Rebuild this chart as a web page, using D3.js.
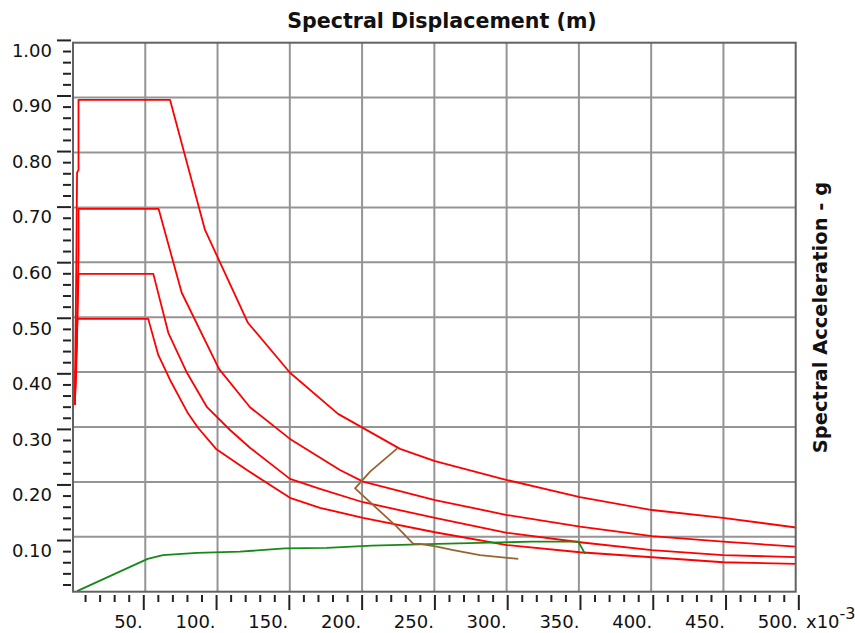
<!DOCTYPE html>
<html lang="en">
<head>
<meta charset="utf-8">
<script src="https://d3js.org/d3.v7.min.js"></script>
<style>
  body { margin: 0; background: #fff; }
  svg { display: block; }
  .tick text { font-family: "DejaVu Sans", sans-serif; font-size: 18px; fill: #111; }
  .tick line { stroke: #222; stroke-width: 2px; }
  .grid line { stroke: #959595; stroke-width: 2px; }
  .curve { fill: none; stroke-width: 1.8px; stroke-linejoin: round; }
</style>
</head>
<body>
<svg id="chart" width="855" height="633"></svg>
<script>
// demand spectra, [Sd (x10^-3 m), Sa (g)]
let spectrum1 = [[2.9, 0.343], [4.1, 0.622], [4.5, 0.761], [5.5, 0.766], [5.5, 0.892], [68.4, 0.892], [92.4, 0.658], [121.9, 0.491], [150.8, 0.401], [183.8, 0.327], [226.4, 0.264], [250.4, 0.242], [299.9, 0.208], [350.0, 0.177], [399.5, 0.154], [448.3, 0.140], [500, 0.122]]
let spectrum2 = [[2.9, 0.343], [4.5, 0.478], [5.5, 0.617], [5.5, 0.696], [60.5, 0.696], [76.4, 0.545], [102.0, 0.408], [123.3, 0.339], [150.8, 0.282], [185.1, 0.226], [201.0, 0.205], [250.4, 0.172], [299.9, 0.145], [350.0, 0.124], [399.5, 0.107], [448.3, 0.097], [500, 0.088]]
let spectrum3 = [[2.9, 0.343], [4.8, 0.507], [5.5, 0.579], [56.9, 0.579], [67.2, 0.473], [80.0, 0.401], [93.8, 0.339], [109.6, 0.298], [123.3, 0.266], [150.8, 0.210], [171.4, 0.192], [201.0, 0.168], [250.4, 0.140], [299.9, 0.113], [350.0, 0.096], [399.5, 0.082], [448.3, 0.073], [500, 0.069]]
let spectrum4 = [[2.9, 0.343], [3.8, 0.393], [4.8, 0.498], [53.4, 0.498], [60.3, 0.433], [68.4, 0.388], [80.7, 0.328], [87.6, 0.302], [100.0, 0.264], [121.2, 0.226], [150.8, 0.176], [171.4, 0.158], [201.0, 0.140], [250.4, 0.114], [299.9, 0.091], [350.0, 0.078], [399.5, 0.069], [448.3, 0.060], [500, 0.057]]
// capacity curve
let capacity = [[4.5, 0.008], [53.0, 0.066], [63.5, 0.073], [86.9, 0.077], [116.4, 0.079], [147.3, 0.085], [176.0, 0.086], [206.9, 0.090], [252.5, 0.093], [316.8, 0.097], [348.9, 0.097], [353.5, 0.075]]
// single demand spectrum (variable damping)
let demand = [[224.5, 0.265], [205.8, 0.223], [195.5, 0.193], [224.1, 0.124], [235.5, 0.093], [240.1, 0.093], [251.6, 0.088], [263.0, 0.082], [281.3, 0.073], [307.6, 0.066]]

let xTicks = [50, 100, 150, 200, 250, 300, 350, 400, 450, 500]
let yTicks = [0.1, 0.2, 0.3, 0.4, 0.5, 0.6, 0.7, 0.8, 0.9, 1.0]
let xMinor = d3.range(10, 500, 10).filter(v => v % 50 != 0)
let yMinor = d3.range(2, 100, 2).filter(v => v % 10 != 0).map(v => v / 100)

let boxL = 73, boxR = 795.7, boxT = 42.7, boxB = 591.7
let x = d3.scaleLinear().domain([1.72, 498.2]).range([boxL, boxR])
let y = d3.scaleLinear().domain([0.007, 0.995]).range([boxB, boxT])
// the grid splits the box in ten equal parts, not quite on the ticks
let gx = d3.scaleLinear().domain([0, 10]).range([boxL, boxR])
let gy = d3.scaleLinear().domain([0, 10]).range([boxB, boxT])

let svg = d3.select("#chart")

svg.append("defs").append("clipPath").attr("id", "plot")
  .append("rect").attr("x", boxL).attr("y", boxT).attr("width", boxR - boxL).attr("height", boxB - boxT)

// grid
let grid = svg.append("g").attr("class", "grid")
grid.selectAll(".gv").data(d3.range(1, 10)).enter().append("line").attr("class", "gv")
  .attr("x1", d => gx(d)).attr("x2", d => gx(d)).attr("y1", boxT).attr("y2", boxB)
grid.selectAll(".gh").data(d3.range(1, 10)).enter().append("line").attr("class", "gh")
  .attr("x1", boxL).attr("x2", boxR).attr("y1", d => gy(d)).attr("y2", d => gy(d))

// curves
let lineMaker = d3.line().x(d => x(d[0])).y(d => y(d[1]))
let plot = svg.append("g").attr("clip-path", "url(#plot)")
let series = [[spectrum4, "#ff0000"], [spectrum3, "#ff0000"], [spectrum2, "#ff0000"], [spectrum1, "#ff0000"], [capacity, "#168a16"], [demand, "#9a6330"]]
plot.selectAll(".curve").data(series).enter().append("path").attr("class", "curve")
  .attr("d", d => lineMaker(d[0])).attr("stroke", d => d[1])

// box
svg.append("rect").attr("x", boxL).attr("y", boxT).attr("width", boxR - boxL).attr("height", boxB - boxT)
  .attr("fill", "none").attr("stroke", "#626262").attr("stroke-width", 2)

// x axis
let xAxis = svg.append("g").attr("transform", "translate(0, 595)")
xAxis.call(d3.axisBottom(x).tickValues(xMinor).tickSize(7).tickFormat(""))
xAxis.append("g").call(d3.axisBottom(x).tickValues(xTicks).tickSize(15).tickFormat(d => d + "."))
xAxis.selectAll(".domain").remove()
xAxis.selectAll("text").attr("text-anchor", "end").attr("x", -1).attr("y", 33).attr("dy", null)

// y axis
let yAxis = svg.append("g").attr("transform", "translate(71, 0)")
yAxis.call(d3.axisLeft(y).tickValues(yMinor).tickSize(8).tickFormat(""))
yAxis.append("g").call(d3.axisLeft(y).tickValues(yTicks).tickSize(14).tickFormat(d3.format(".2f")))
yAxis.selectAll(".domain").remove()
yAxis.selectAll("text").attr("x", -19).attr("y", 10.5)

// titles
svg.append("text").attr("x", 442).attr("y", 27.5).attr("text-anchor", "middle")
  .attr("style", "font-family: 'DejaVu Sans', sans-serif; font-weight: bold; font-size: 20.6px; fill: #111")
  .text("Spectral Displacement (m)")
svg.append("text").attr("transform", "translate(827, 317.5) rotate(-90)").attr("text-anchor", "middle")
  .attr("style", "font-family: 'DejaVu Sans', sans-serif; font-weight: bold; font-size: 19.5px; fill: #111")
  .text("Spectral Acceleration - g")
let unit = svg.append("text").attr("x", 806).attr("y", 628)
  .attr("style", "font-family: 'DejaVu Sans', sans-serif; font-size: 18px; fill: #111")
unit.append("tspan").text("x10")
unit.append("tspan").attr("dy", -9).attr("font-size", 16).text("-3")
</script>
</body>
</html>
